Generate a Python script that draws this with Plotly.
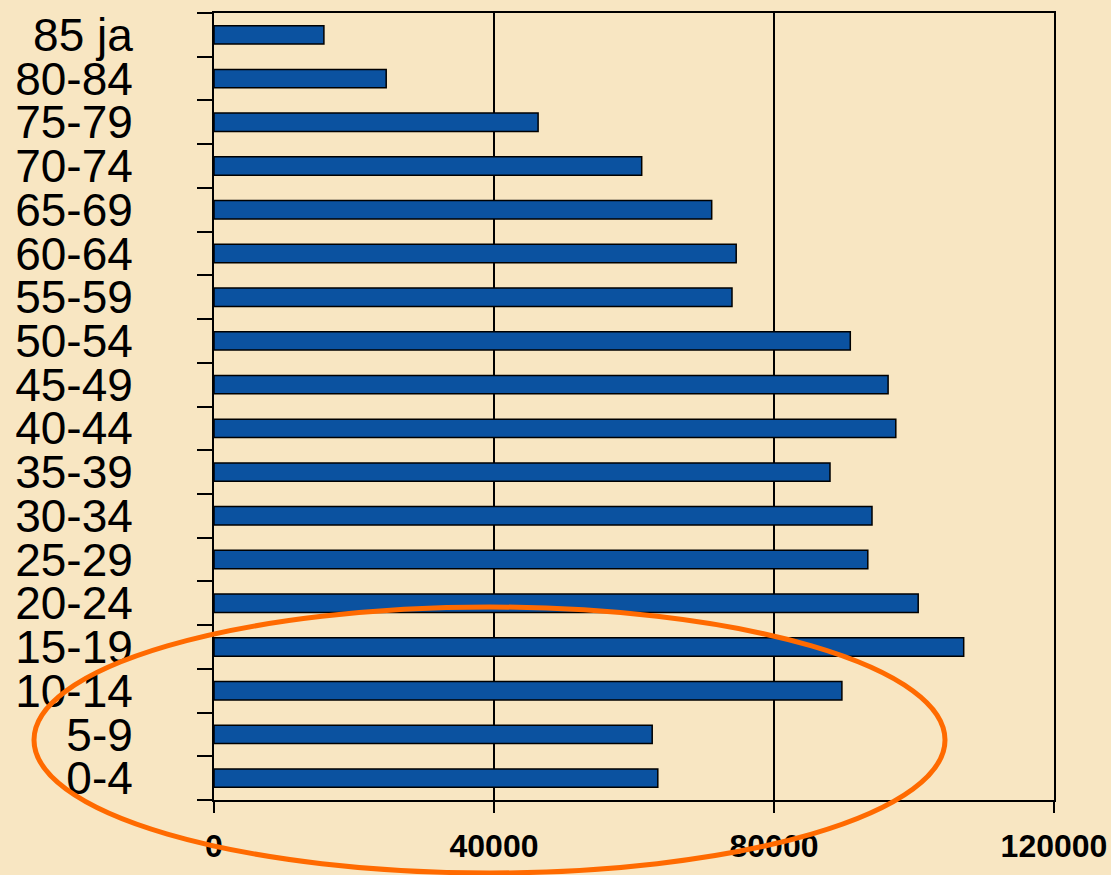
import plotly.graph_objects as go

categories = ["0-4", "5-9", "10-14", "15-19", "20-24", "25-29", "30-34", "35-39",
              "40-44", "45-49", "50-54", "55-59", "60-64", "65-69", "70-74",
              "75-79", "80-84", "85 ja"]
values = [63400, 62600, 89700, 107100, 100600, 93400, 94000, 88000,
          97400, 96300, 90900, 74000, 74600, 71100, 61100, 46300, 24600, 15700]
x_ticks = [0, 40000, 80000, 120000]

BG = "#F8E6C2"
fig = go.Figure(go.Bar(
    y=categories, x=values, orientation="h",
    marker=dict(color="#0B52A0", line=dict(color="black", width=1.5)),
))

fig.update_layout(
    width=1111, height=875,
    paper_bgcolor=BG, plot_bgcolor=BG,
    margin=dict(l=214, r=57, t=13, b=75, autoexpand=False),
    bargap=0.58, showlegend=False,
    font=dict(family="Liberation Sans, Arial", color="black"),
)
fig.update_xaxes(
    range=[0, 120000], tickvals=x_ticks, ticktext=[str(v) for v in x_ticks],
    showgrid=True, gridcolor="black", gridwidth=1.5,
    showline=True, linecolor="black", linewidth=2, mirror=True,
    ticks="outside", ticklen=11, tickwidth=2, tickcolor="black",
    tickfont=dict(size=32, family="Liberation Sans, Arial", weight="bold"),
    ticklabelstandoff=6, zeroline=False, automargin=False,
)
fig.update_yaxes(
    type="category", categoryorder="array", categoryarray=categories,
    tickmode="linear", tick0=0, dtick=1,
    tickson="boundaries", ticks="outside", ticklen=15, tickwidth=2, tickcolor="black",
    showline=True, linecolor="black", linewidth=2, mirror=True,
    showgrid=False, tickfont=dict(size=46),
    ticklabelstandoff=70, automargin=False,
)

# orange ellipse highlighting the young age groups
fig.add_shape(type="circle", xref="paper", yref="paper",
              x0=(34 - 214) / 840, x1=(945 - 214) / 840,
              y0=(800 - 873) / 787, y1=(800 - 607) / 787,
              line=dict(color="#FF6A00", width=5), layer="above")

fig.write_html("out.html", config={"displayModeBar": False},
               post_script="document.body.style.margin='0';document.body.style.background='%s';" % BG)
